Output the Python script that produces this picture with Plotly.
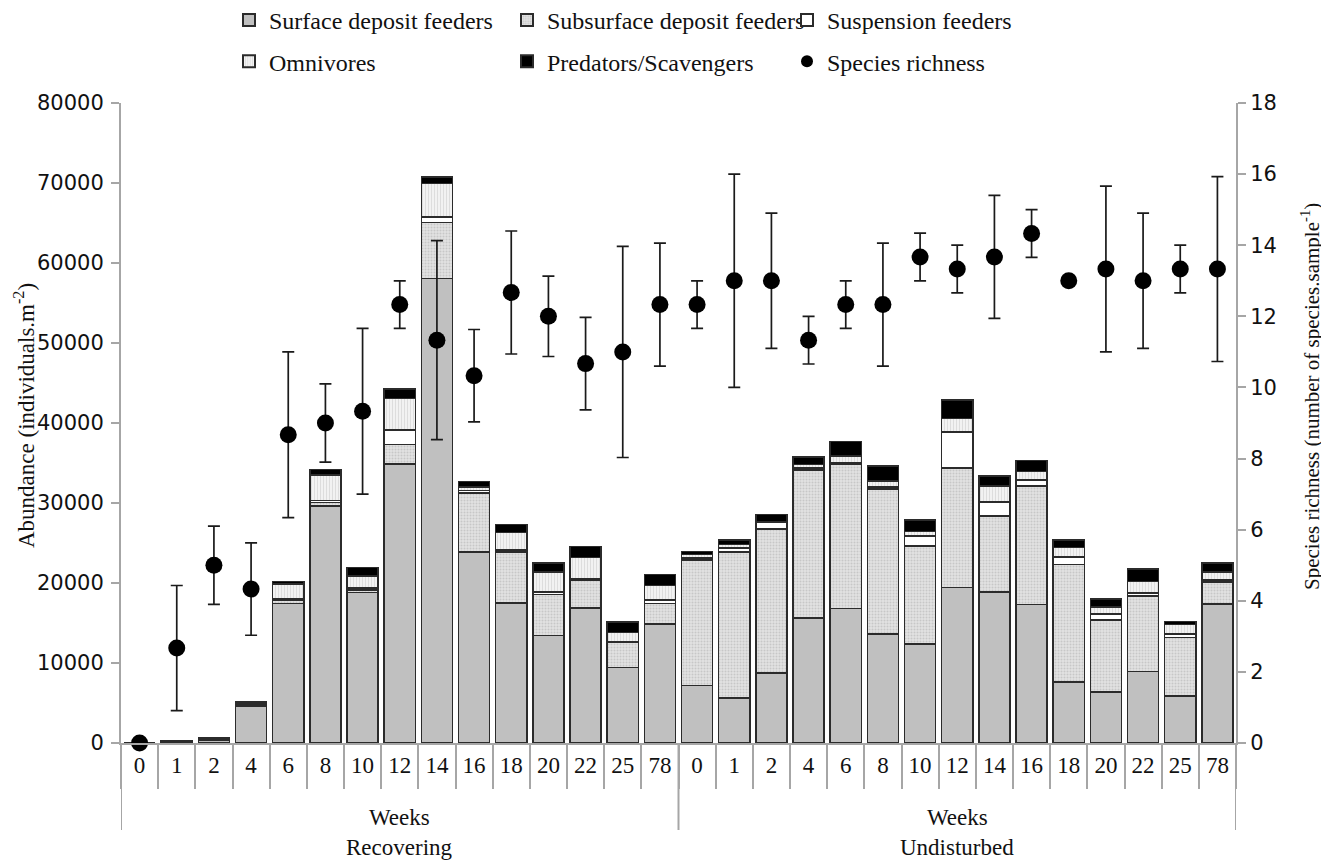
import plotly.graph_objects as go

weeks = ["0", "1", "2", "4", "6", "8", "10", "12", "14", "16", "18", "20", "22", "25", "78"]
groups = ["Recovering", "Undisturbed"]
axis_word = "Weeks"

# Abundance (individuals.m-2) per feeding group; Recovering then Undisturbed
surface_rec = [0, 150, 350, 4650, 17450, 29650, 18800, 34850, 58050, 23900, 17500, 13450, 16900, 9450, 14850]
surface_und = [7200, 5600, 8750, 15650, 16800, 13650, 12400, 19450, 18850, 17300, 7600, 6350, 8950, 5850, 17400]

subsurface_rec = [0, 50, 150, 200, 450, 400, 350, 2450, 7000, 7350, 6400, 5100, 3500, 3100, 2600]
subsurface_und = [15700, 18300, 18000, 18500, 18000, 18100, 12200, 14950, 9500, 14850, 14700, 9050, 9400, 7350, 2700]

suspension_rec = [0, 0, 0, 50, 100, 250, 250, 1850, 700, 300, 250, 350, 100, 100, 400]
suspension_und = [200, 500, 850, 250, 200, 250, 1250, 4500, 1800, 750, 950, 700, 400, 450, 300]

omnivores_rec = [0, 0, 100, 100, 1850, 3200, 1500, 3900, 4200, 450, 2150, 2500, 2700, 1150, 1850]
omnivores_und = [450, 400, 100, 400, 850, 750, 600, 1650, 2000, 1050, 1200, 900, 1450, 1150, 950]

predators_rec = [0, 100, 100, 200, 350, 700, 1050, 1200, 800, 700, 1000, 1100, 1350, 1300, 1350]
predators_und = [400, 600, 850, 950, 1850, 1900, 1450, 2300, 1200, 1350, 950, 1000, 1550, 400, 1150]

# Species richness (number of species.sample-1), mean and error
richness_rec = [0, 2.67, 5.0, 4.33, 8.67, 9.0, 9.33, 12.33, 11.33, 10.33, 12.67, 12.0, 10.67, 11.0, 12.33]
richness_und = [12.33, 13.0, 13.0, 11.33, 12.33, 12.33, 13.67, 13.33, 13.67, 14.33, 13.0, 13.33, 13.0, 13.33, 13.33]
err_rec = [0, 1.76, 1.1, 1.3, 2.33, 1.1, 2.33, 0.67, 2.8, 1.3, 1.73, 1.13, 1.3, 2.97, 1.73]
err_und = [0.67, 3.0, 1.9, 0.67, 0.67, 1.73, 0.67, 0.67, 1.73, 0.67, 0, 2.33, 1.9, 0.67, 2.6]

SERIF = "Liberation Serif"
SANS = "DejaVu Sans"
TXT = "#111111"
axis_col = "#a6a6a6"

n = len(weeks)
keys = ["%s|%s" % (g, w) for g in groups for w in weeks]
ticktext = [w for _ in groups for w in weeks]

edge = dict(color="#2b2b2b", width=1.6)
series = [
    ("Surface deposit feeders", surface_rec + surface_und,
     dict(color="#c0c0c0", line=edge), "legend"),
    ("Subsurface deposit feeders", subsurface_rec + subsurface_und,
     dict(color="#dedede", line=edge,
          pattern=dict(shape=".", fgcolor="#acacac", bgcolor="#e2e2e2", size=3, solidity=0.35)), "legend2"),
    ("Suspension feeders", suspension_rec + suspension_und,
     dict(color="#ffffff", line=edge), "legend3"),
    ("Omnivores", omnivores_rec + omnivores_und,
     dict(color="#ececec", line=edge,
          pattern=dict(shape="|", fgcolor="#c4c4c4", bgcolor="#f2f2f2", size=3, solidity=0.3)), "legend"),
    ("Predators/Scavengers", predators_rec + predators_und,
     dict(color="#000000", line=edge), "legend2"),
]

fig = go.Figure()
for i, (name, vals, marker, leg) in enumerate(series):
    fig.add_trace(go.Bar(x=keys, y=vals, name=name, marker=marker, legend=leg,
                         legendgroup=name, legendrank=i))

fig.add_trace(go.Scatter(
    x=keys, y=richness_rec + richness_und, name="Species richness", mode="markers",
    yaxis="y2", legend="legend3", cliponaxis=False,
    marker=dict(color="#000000", size=17, symbol="circle"),
    error_y=dict(type="data", array=err_rec + err_und, visible=True,
                 color="#1a1a1a", thickness=1.7, width=6),
))

# figure is drawn inside the page's 8 px body margin
W, Hfig = 1321, 854
L, T, PW, PH = 113, 95, 1115, 640

shapes = []
annotations = []
for gi in range(len(groups) + 1):
    shapes.append(dict(type="line", xref="x", yref="paper",
                       x0=gi * n - 0.5, x1=gi * n - 0.5, y0=0, y1=-87.0 / PH,
                       line=dict(color=axis_col, width=2)))
for gi, g in enumerate(groups):
    mid = gi * n + (n - 1) / 2.0
    annotations.append(dict(x=mid, y=-74.0 / PH, xref="x", yref="paper", text=axis_word,
                            showarrow=False, yanchor="middle",
                            font=dict(family=SERIF, size=23, color=TXT)))
    annotations.append(dict(x=mid, y=-104.0 / PH, xref="x", yref="paper", text=g,
                            showarrow=False, yanchor="middle",
                            font=dict(family=SERIF, size=23, color=TXT)))

# axis titles
annotations.append(dict(x=0, xshift=-97, y=(743 - 416) / float(PH), xref="paper", yref="paper",
                        text="Abundance (individuals.m<sup>-2</sup>)", textangle=-90,
                        showarrow=False, xanchor="center", yanchor="middle",
                        font=dict(family=SERIF, size=23, color=TXT)))
annotations.append(dict(x=1, xshift=74, y=(743 - 397) / float(PH), xref="paper", yref="paper",
                        text="Species richness (number of species.sample<sup>-1</sup>)",
                        textangle=-90, showarrow=False, xanchor="center", yanchor="middle",
                        font=dict(family=SERIF, size=21, color=TXT)))

legfont = dict(family=SERIF, size=24, color=TXT)
leg_common = dict(orientation="v", yanchor="middle", xanchor="left", font=legfont,
                  xref="container", yref="container",
                  bgcolor="rgba(0,0,0,0)", traceorder="grouped", tracegroupgap=7,
                  itemwidth=30, itemsizing="constant")
leg_y = 1 - 33.0 / Hfig

fig.update_layout(
    width=W, height=Hfig,
    margin=dict(l=L, r=W - L - PW, t=T, b=Hfig - T - PH, autoexpand=False),
    paper_bgcolor="white", plot_bgcolor="white",
    barmode="stack", bargap=0.16,
    font=dict(family=SERIF, size=20, color=TXT),
    legend=dict(x=221.0 / W, y=leg_y, **leg_common),
    legend2=dict(x=499.0 / W, y=leg_y, **leg_common),
    legend3=dict(x=779.0 / W, y=leg_y, **leg_common),
    shapes=shapes,
    annotations=annotations,
    xaxis=dict(type="category", tickmode="array", tickvals=keys, ticktext=ticktext,
               tickson="boundaries", range=[-0.5, len(keys) - 0.5],
               showline=True, linecolor=axis_col, linewidth=2,
               ticks="outside", ticklen=44, tickcolor=axis_col, tickwidth=2,
               tickfont=dict(family=SERIF, size=23, color=TXT),
               showgrid=False, zeroline=False, automargin=False),
    yaxis=dict(range=[0, 80000], dtick=10000, tickformat="d", showline=True,
               linecolor=axis_col, linewidth=2, ticks="outside", ticklen=8,
               tickcolor=axis_col, tickwidth=2, showgrid=False, zeroline=False,
               ticklabelstandoff=3, automargin=False,
               tickfont=dict(family=SANS, size=21, color=TXT)),
    yaxis2=dict(range=[0, 18], dtick=2, overlaying="y", side="right", showline=True,
                linecolor=axis_col, linewidth=2, ticks="outside", ticklen=8,
                tickcolor=axis_col, tickwidth=2, showgrid=False, zeroline=False,
                ticklabelstandoff=0, automargin=False,
                tickfont=dict(family=SANS, size=21, color=TXT)),
)

fig.write_html("out.html")
